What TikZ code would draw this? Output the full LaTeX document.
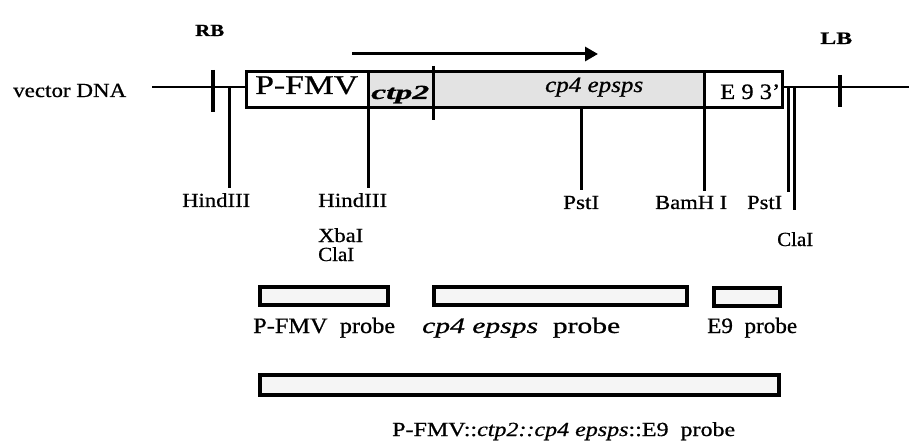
\documentclass[tikz,border=0pt]{standalone}
\usepackage{fontspec}
\setmainfont{Liberation Serif}[FakeBold=0.7]
\usepackage{graphicx}
\usetikzlibrary{arrows.meta}
\newcommand{\fw}[2]{\resizebox{#1pt}{\height}{#2}}
\newcommand{\fsz}[1]{\fontsize{#1}{#1}\selectfont}
\begin{document}
\begin{tikzpicture}[x=1pt,y=-1pt,
  lbl/.style={inner sep=0pt, anchor=base west},
  siteline/.style={line width=3pt, line cap=butt},
  dnaline/.style={line width=2.2pt},
  tick/.style={line width=3.5pt},
  probebox/.style={draw, line width=3.5pt, fill=gray!8},
  ]
\useasboundingbox (0,0) rectangle (909,446);

% coordinates of the construct
\coordinate (vl) at (152,87);
\coordinate (bl) at (246,87);
\coordinate (br) at (782,87);
\coordinate (vr) at (909,87);

% vector DNA lines
\draw[dnaline] (vl) -- (bl);
\draw[dnaline] (br) -- (vr);

% main box
\fill[gray!22] (368,72) rectangle (704,108);
\draw[line width=3pt] (246,72) rectangle (782,108);

% RB and LB ticks
\draw[tick] (213,70) -- (213,112);
\draw[tick] (840,75) -- (840,107);

% dividers and sites
\draw[siteline] (229,87) -- (229,188);
\draw[siteline] (368,72) -- (368,188);
\draw[siteline] (433,66) -- (433,120);
\draw[siteline] (581,108) -- (581,190);
\draw[siteline] (704,72) -- (704,191);
\draw[siteline] (788,87) -- (788,192);
\draw[siteline] (794,87) -- (794,210);

% transcription arrow
\coordinate (as) at (352,54);
\coordinate (ae) at (598,54);
\draw[line width=3pt, -{Triangle[length=13pt,width=14pt]}] (as) -- (ae);

% texts
\node[lbl, font=\fsz{17}\bfseries] (rb) at (195,36) {\fw{29}{RB}};
\node[lbl, font=\fsz{17.5}\bfseries] (lb) at (820,44) {\fw{32}{LB}};
\node[lbl, font=\fsz{20}] (vec) at (13,97) {\fw{113}{vector DNA}};
\node[lbl, font=\fsz{27}] (tpfmv) at (255,94) {\fw{103}{P-FMV}};
\node[lbl, font=\fsz{20}\bfseries\itshape] (tctp) at (371,99) {\fw{58}{ctp2}};
\node[lbl, font=\fsz{22}\itshape] (tcp) at (545,92) {\fw{98}{cp4 epsps}};
\node[lbl, font=\fsz{22}] (te) at (720,99) {\fw{60}{E 9 3'}};

\node[lbl, font=\fsz{20}] (h1) at (182,207) {\fw{68}{HindIII}};
\node[lbl, font=\fsz{20}] (h2) at (318,207) {\fw{69}{HindIII}};
\node[lbl, font=\fsz{20}] (xb) at (318,242) {\fw{45}{XbaI}};
\node[lbl, font=\fsz{20}] (c1) at (318,261) {\fw{36}{ClaI}};
\node[lbl, font=\fsz{20}] (p1) at (563,209) {\fw{36}{PstI}};
\node[lbl, font=\fsz{20}] (bh) at (655,209) {\fw{72}{BamH I}};
\node[lbl, font=\fsz{20}] (p2) at (747,209) {\fw{35}{PstI}};
\node[lbl, font=\fsz{20}] (c2) at (777,246) {\fw{36}{ClaI}};

% probes
\node[probebox, minimum width=128pt, minimum height=18pt, inner sep=0, anchor=north west] (pr1) at (258,285) {};
\node[probebox, minimum width=253pt, minimum height=18pt, inner sep=0, anchor=north west] (pr2) at (432,285) {};
\node[probebox, minimum width=66pt, minimum height=18pt, inner sep=0, anchor=north west] (pr3) at (712,286) {};
\node[probebox, minimum width=519pt, minimum height=20pt, inner sep=0, anchor=north west] (pr4) at (258,373) {};

\node[lbl, font=\fsz{22}] (l1) at (253,333) {\fw{142}{P-FMV\ \ probe}};
\node[lbl, font=\fsz{22}] (l2) at (422,333) {\fw{198}{\textit{cp4 epsps}\ \ probe}};
\node[lbl, font=\fsz{22}] (l3) at (707,333) {\fw{90}{E9\ \ probe}};
\node[lbl, font=\fsz{20}] (l4) at (392,436) {\fw{343}{P-FMV::\textit{ctp2::cp4 epsps}::E9\ \ probe}};
\end{tikzpicture}
\end{document}
